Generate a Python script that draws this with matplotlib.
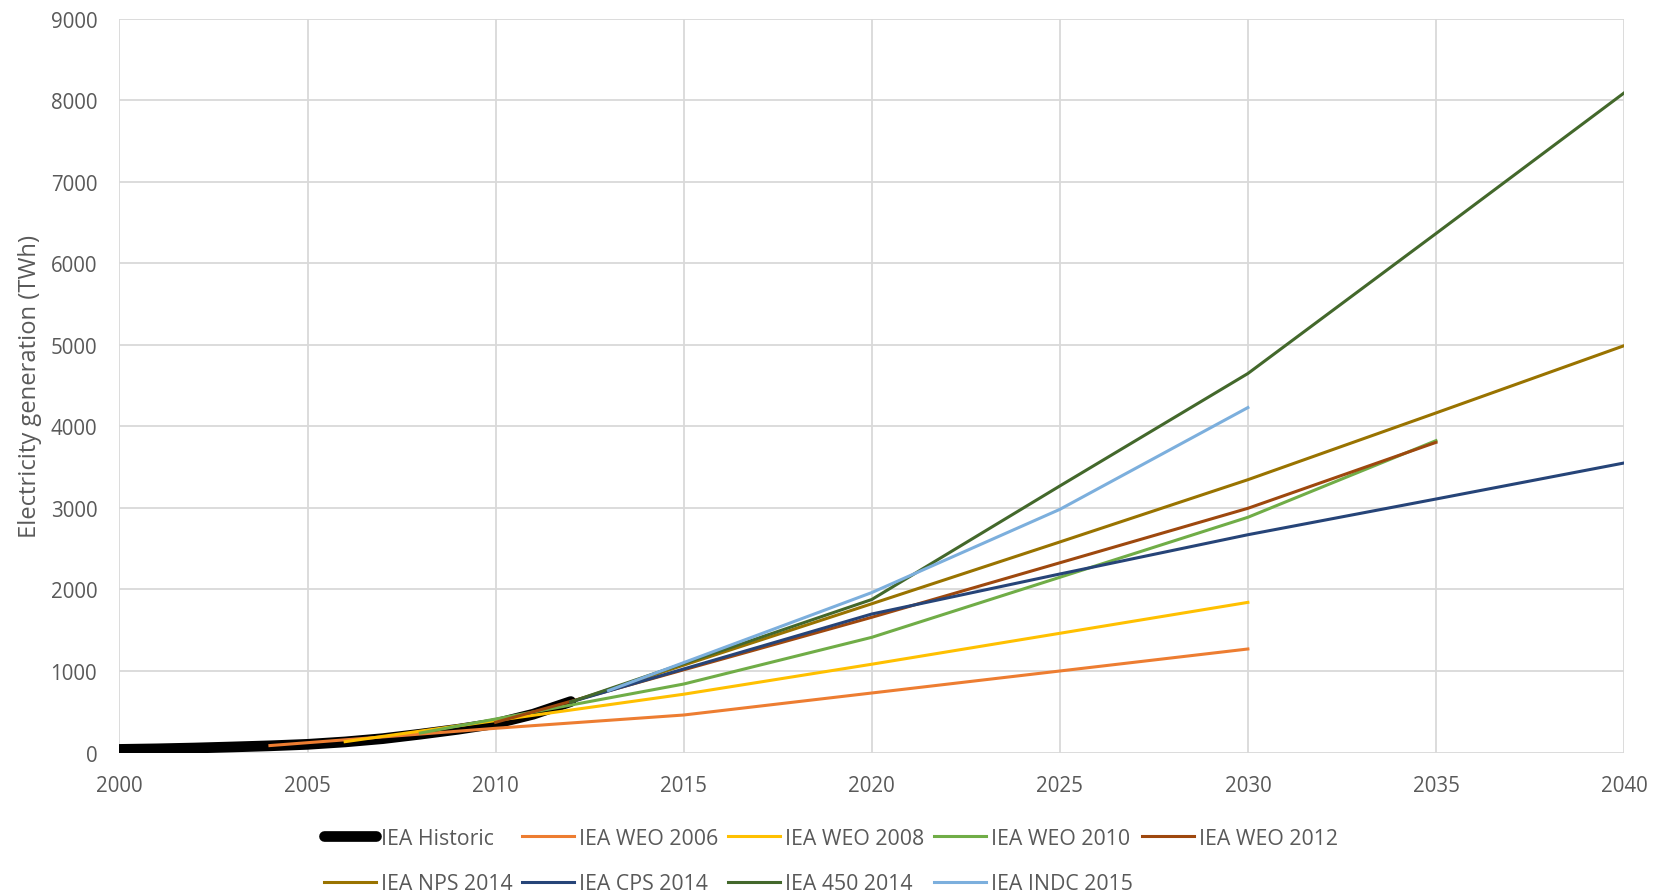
import matplotlib
matplotlib.use("Agg")
import matplotlib.pyplot as plt

plt.rcParams['font.family'] = ['Open Sans', 'DejaVu Sans']

# Datos (TWh)
hist_years = [2000, 2001, 2002, 2003, 2004, 2005, 2006, 2007, 2008, 2009, 2010, 2011, 2012]
hist_vals = [38, 45, 55, 68, 82, 100, 130, 170, 225, 285, 355, 470, 625]

weo2006_years = [2004, 2010, 2015, 2030]
weo2006_vals = [85, 297, 460, 1270]

weo2008_years = [2006, 2015, 2020, 2030]
weo2008_vals = [133, 715, 1083, 1842]

weo2010_years = [2008, 2015, 2020, 2030, 2035]
weo2010_vals = [239, 840, 1413, 2886, 3826]

weo2012_years = [2010, 2020, 2030, 2035]
weo2012_vals = [370, 1659, 2996, 3805]

nps2014_years = [2012, 2020, 2025, 2030, 2035, 2040]
nps2014_vals = [620, 1825, 2583, 3347, 4166, 4991]

cps2014_years = [2012, 2020, 2025, 2030, 2035, 2040]
cps2014_vals = [620, 1699, 2190, 2672, 3110, 3552]

s450_years = [2012, 2020, 2025, 2030, 2035, 2040]
s450_vals = [620, 1877, 3270, 4650, 6367, 8092]

indc2015_years = [2013, 2020, 2025, 2030]
indc2015_vals = [759, 1962, 2983, 4232]

series = [
    ('IEA WEO 2006', weo2006_years, weo2006_vals, '#ED7D31'),
    ('IEA WEO 2008', weo2008_years, weo2008_vals, '#FFC000'),
    ('IEA WEO 2010', weo2010_years, weo2010_vals, '#70AD47'),
    ('IEA WEO 2012', weo2012_years, weo2012_vals, '#9E480E'),
    ('IEA NPS 2014', nps2014_years, nps2014_vals, '#997300'),
    ('IEA CPS 2014', cps2014_years, cps2014_vals, '#264478'),
    ('IEA 450 2014', s450_years, s450_vals, '#43682B'),
    ('IEA INDC 2015', indc2015_years, indc2015_vals, '#7CAFDD'),
]

fig = plt.figure(figsize=(16.57, 8.95), dpi=100)
ax = fig.add_axes([0.0721, 0.1581, 0.908, 0.8196])

lines = {}
h, = ax.plot(hist_years, hist_vals, color='black', lw=7.7,
             solid_capstyle='round', solid_joinstyle='round', label='IEA Historic')
lines['IEA Historic'] = h
for name, xs, ys, col in series:
    l, = ax.plot(xs, ys, color=col, lw=2.2, solid_joinstyle='round', label=name)
    lines[name] = l

ax.set_xlim(2000, 2040)
ax.set_ylim(0, 9000)
ax.set_xticks(range(2000, 2041, 5))
ax.set_yticks(range(0, 9001, 1000))
ax.grid(True, color='#D9D9D9', lw=1.3)
ax.set_axisbelow(True)
for s in ax.spines.values():
    s.set_visible(False)
ax.tick_params(length=0, labelsize=14.8, labelcolor='#595959')
ax.tick_params(axis='x', pad=16)
ax.tick_params(axis='y', pad=16)

ax.set_ylabel('Electricity generation (TWh)', fontsize=17.1, color='#595959')
ax.yaxis.set_label_coords(-0.0513, 0.5)

# Leyenda en filas (orden columna a columna)
order = ['IEA Historic', 'IEA NPS 2014', 'IEA WEO 2006', 'IEA CPS 2014',
         'IEA WEO 2008', 'IEA 450 2014', 'IEA WEO 2010', 'IEA INDC 2015',
         'IEA WEO 2012']
leg = fig.legend([lines[k] for k in order], order, ncol=5, loc='center',
                 bbox_to_anchor=(0.5015, 0.037), frameon=False,
                 fontsize=15.3, handlelength=2.45, handletextpad=0.23,
                 columnspacing=0.45, labelspacing=1.15, borderpad=0)
for t in leg.get_texts():
    t.set_color('#595959')

fig.savefig('out.png', dpi=100)
